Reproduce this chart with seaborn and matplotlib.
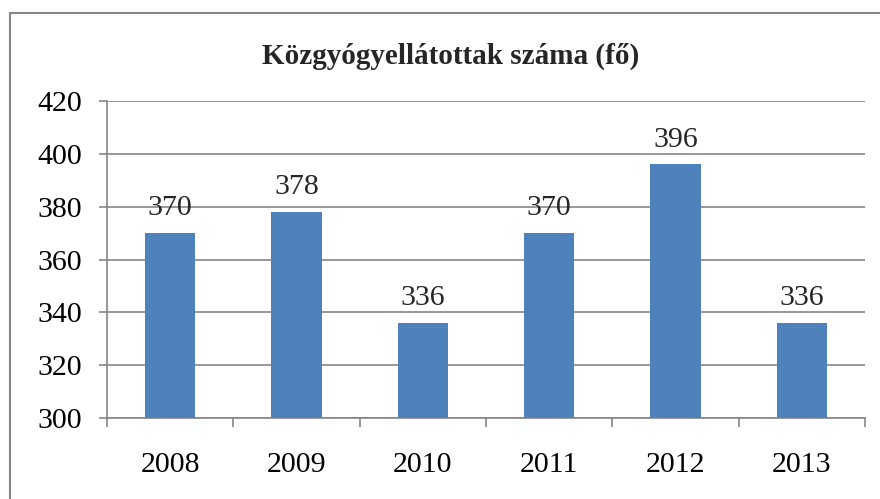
import numpy as np
import pandas as pd
import seaborn as sns
import matplotlib.pyplot as plt
from matplotlib.patches import Rectangle

years = ["2008", "2009", "2010", "2011", "2012", "2013"]
counts = [370, 378, 336, 370, 396, 336]
title = "Közgyógyellátottak száma (fő)"

df = pd.DataFrame({"ev": years, "fo": counts})

sns.set_style("white")
plt.rcParams["font.family"] = ["Liberation Serif", "DejaVu Serif"]

fig = plt.figure(figsize=(8.8, 4.99), dpi=100)
ax = fig.add_axes([107 / 880, 1 - 418 / 499, (865 - 107) / 880, (418 - 101) / 499])

sns.barplot(data=df, x="ev", y="fo", color="#4F81BD", saturation=1, width=0.4,
            linewidth=0, ax=ax, zorder=3)
# barplot starts at 0, trim to the 300-420 window
ax.set_ylim(300, 420)
ax.set_xlim(-0.5, len(years) - 0.5)
ax.set_yticks(np.arange(300, 421, 20))
ax.yaxis.grid(True, color="#868686", linewidth=1.2, zorder=0)

for i, v in enumerate(counts):
    ax.text(i, v + 4.5, str(v), ha="center", va="bottom", fontsize=21.5)

for s in ["top", "right"]:
    ax.spines[s].set_visible(False)
for s in ["left", "bottom"]:
    ax.spines[s].set_color("#868686")
    ax.spines[s].set_linewidth(1.2)

ax.set_xlabel("")
ax.set_ylabel("")
ax.tick_params(axis="both", labelsize=21.5, colors="black")
ax.tick_params(axis="y", length=5.8, width=1.2, color="#868686", direction="out", left=True, pad=12)
ax.tick_params(axis="x", bottom=False, pad=21)
# category separators on the x axis
ax.set_xticks(np.arange(-0.5, len(years)), minor=True)
ax.tick_params(axis="x", which="minor", bottom=True, length=6.5, width=1.2, color="#868686")

fig.text(451 / 880, 1 - 56 / 499, title, ha="center", va="center", fontsize=21, fontweight="bold")

# outer frame (right and bottom edges fall off the picture)
fig.patches.append(Rectangle((10 / 880, -0.05), 1.0, 1 - 13 / 499 + 0.05, transform=fig.transFigure,
                             fill=False, edgecolor="#868686", linewidth=1.5))

fig.savefig("out.png", dpi=100)
